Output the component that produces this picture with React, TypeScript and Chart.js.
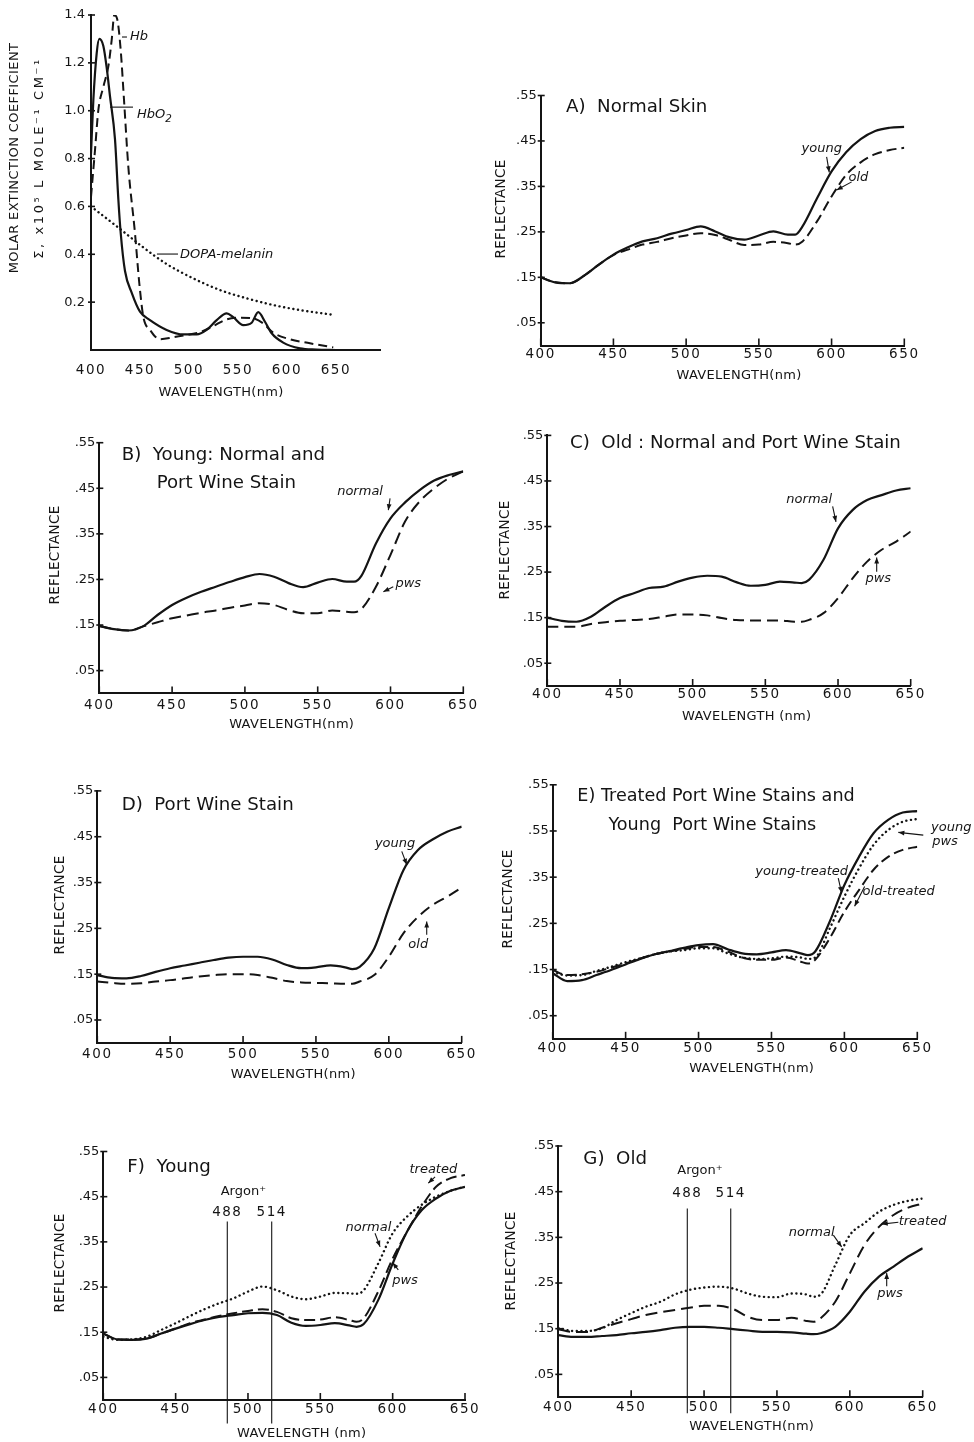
import React, { useEffect, useRef } from "react";
import { Chart, registerables } from "chart.js";

Chart.register(...registerables);

const INK = "#141414";
const FONT = "'DejaVu Sans', 'Liberation Sans', sans-serif";

// ---------- Panel 0: molar extinction coefficients ----------
const HBO2_WL = [400, 402.4, 405.8, 408.5, 412.6, 416, 419.4, 424.5, 427.9, 430.3, 434.7, 441.5, 450, 460.2, 477.2, 494.2, 507.9, 518, 528.3, 538.5, 545.2, 555.4, 564, 570.7, 577.6, 584.4, 596.2, 613.3, 630, 650];
const HBO2_EXT = [0.82, 1.045, 1.24, 1.3, 1.27, 1.18, 1.06, 0.88, 0.63, 0.49, 0.33, 0.24, 0.16, 0.125, 0.084, 0.065, 0.065, 0.084, 0.125, 0.153, 0.137, 0.104, 0.114, 0.158, 0.118, 0.07, 0.031, 0.007, 0.002, 0.0];
const HB_WL = [400, 404.1, 407.5, 412.6, 417.7, 421.1, 423.8, 426.9, 430.3, 433.7, 438.1, 444.9, 449.3, 453.4, 460.2, 470.4, 484, 497.7, 511.2, 524.8, 538.5, 552, 565.6, 575.8, 586, 603, 623.5, 647.3];
const HB_EXT = [0.64, 0.836, 1.003, 1.1, 1.185, 1.295, 1.4, 1.38, 1.254, 1.045, 0.766, 0.488, 0.279, 0.139, 0.084, 0.045, 0.053, 0.063, 0.074, 0.1, 0.128, 0.135, 0.132, 0.111, 0.072, 0.045, 0.028, 0.011];
const DOPA_WL = [400, 419, 433, 453, 477, 504, 532, 559, 586, 613, 649];
const DOPA_EXT = [0.6, 0.54, 0.495, 0.43, 0.36, 0.3, 0.25, 0.216, 0.188, 0.167, 0.146];
const EXT_TICKS = [0.2, 0.4, 0.6, 0.8, 1.0, 1.2, 1.4];
const EXT_LABELS = ["0.2", "0.4", "0.6", "0.8", "1.0", "1.2", "1.4"];

// ---------- Reflectance panels ----------
const WL = [400, 410, 420, 430, 440, 450, 460, 470, 480, 490, 500, 510, 520, 530, 540, 550, 560, 570, 575, 580, 590, 600, 610, 620, 630, 640, 650];
const WL_TICKS = [400, 450, 500, 550, 600, 650];
const WL_LABELS = ["400", "450", "500", "550", "600", "650"];
const R_TICKS = [0.05, 0.15, 0.25, 0.35, 0.45, 0.55];
const R_LABELS = [".05", ".15", ".25", ".35", ".45", ".55"];
const R_LABELS_E = [".05", ".15", ".25", ".35", ".55", ".55"];

const A_YOUNG = [0.15, 0.139, 0.137, 0.154, 0.178, 0.2, 0.216, 0.229, 0.236, 0.246, 0.254, 0.262, 0.251, 0.238, 0.233, 0.242, 0.251, 0.244, 0.244, 0.262, 0.324, 0.383, 0.425, 0.454, 0.472, 0.479, 0.481];
const A_OLD = [0.15, 0.139, 0.137, 0.154, 0.178, 0.199, 0.211, 0.222, 0.228, 0.236, 0.242, 0.247, 0.243, 0.232, 0.221, 0.222, 0.228, 0.225, 0.222, 0.229, 0.273, 0.328, 0.375, 0.403, 0.421, 0.43, 0.435];

const B_NORMAL = [0.148, 0.141, 0.138, 0.147, 0.172, 0.194, 0.21, 0.223, 0.234, 0.245, 0.255, 0.262, 0.256, 0.242, 0.233, 0.243, 0.251, 0.245, 0.245, 0.258, 0.329, 0.384, 0.419, 0.446, 0.467, 0.479, 0.487];
const B_PWS = [0.148, 0.141, 0.138, 0.147, 0.156, 0.165, 0.171, 0.177, 0.182, 0.188, 0.193, 0.198, 0.194, 0.183, 0.176, 0.176, 0.182, 0.179, 0.178, 0.185, 0.234, 0.304, 0.377, 0.421, 0.45, 0.472, 0.487];

const C_NORMAL = [0.15, 0.143, 0.141, 0.152, 0.174, 0.193, 0.204, 0.215, 0.218, 0.229, 0.238, 0.242, 0.24, 0.228, 0.22, 0.222, 0.229, 0.227, 0.226, 0.233, 0.277, 0.346, 0.386, 0.408, 0.419, 0.429, 0.434];
const C_PWS = [0.13, 0.13, 0.13, 0.136, 0.14, 0.143, 0.145, 0.147, 0.152, 0.157, 0.157, 0.155, 0.149, 0.145, 0.144, 0.144, 0.144, 0.141, 0.141, 0.145, 0.16, 0.193, 0.236, 0.273, 0.299, 0.317, 0.339];

const D_YOUNG = [0.148, 0.142, 0.141, 0.146, 0.155, 0.163, 0.169, 0.175, 0.181, 0.186, 0.188, 0.188, 0.182, 0.17, 0.163, 0.165, 0.169, 0.165, 0.161, 0.166, 0.206, 0.294, 0.377, 0.421, 0.444, 0.461, 0.472];
const D_OLD = [0.134, 0.131, 0.129, 0.13, 0.134, 0.137, 0.141, 0.145, 0.148, 0.15, 0.15, 0.148, 0.142, 0.135, 0.132, 0.131, 0.13, 0.129, 0.129, 0.134, 0.148, 0.188, 0.239, 0.275, 0.301, 0.319, 0.339];

const E_YOUNG_TREATED = [0.142, 0.125, 0.127, 0.138, 0.149, 0.161, 0.173, 0.183, 0.19, 0.197, 0.203, 0.205, 0.194, 0.185, 0.183, 0.187, 0.192, 0.185, 0.181, 0.189, 0.254, 0.333, 0.394, 0.445, 0.474, 0.49, 0.493];
const E_OLD_TREATED = [0.149, 0.138, 0.14, 0.145, 0.154, 0.163, 0.174, 0.183, 0.189, 0.194, 0.199, 0.199, 0.189, 0.176, 0.171, 0.171, 0.176, 0.167, 0.163, 0.171, 0.218, 0.275, 0.322, 0.366, 0.394, 0.409, 0.416];
const E_YOUNG_PWS = [0.145, 0.137, 0.138, 0.147, 0.156, 0.166, 0.174, 0.183, 0.189, 0.192, 0.196, 0.196, 0.185, 0.176, 0.173, 0.174, 0.178, 0.176, 0.173, 0.176, 0.239, 0.308, 0.369, 0.42, 0.452, 0.47, 0.476];

const F_NORMAL = [0.14, 0.133, 0.134, 0.14, 0.155, 0.17, 0.186, 0.201, 0.214, 0.225, 0.24, 0.251, 0.243, 0.229, 0.223, 0.229, 0.237, 0.236, 0.235, 0.243, 0.302, 0.369, 0.406, 0.432, 0.45, 0.463, 0.472];
const F_TREATED = [0.147, 0.134, 0.134, 0.136, 0.147, 0.158, 0.17, 0.178, 0.186, 0.192, 0.197, 0.201, 0.195, 0.181, 0.177, 0.178, 0.183, 0.177, 0.173, 0.181, 0.24, 0.313, 0.373, 0.428, 0.472, 0.491, 0.498];
const F_PWS = [0.147, 0.134, 0.133, 0.136, 0.147, 0.158, 0.168, 0.177, 0.184, 0.188, 0.192, 0.193, 0.188, 0.171, 0.164, 0.166, 0.17, 0.165, 0.162, 0.168, 0.221, 0.302, 0.373, 0.42, 0.446, 0.463, 0.472];
const F_ARGON = [485.7, 516.4];

const G_NORMAL = [0.152, 0.145, 0.145, 0.151, 0.169, 0.184, 0.198, 0.209, 0.225, 0.235, 0.24, 0.242, 0.238, 0.227, 0.22, 0.219, 0.227, 0.225, 0.22, 0.225, 0.289, 0.355, 0.381, 0.406, 0.421, 0.43, 0.435];
const G_TREATED = [0.149, 0.143, 0.143, 0.152, 0.162, 0.171, 0.18, 0.186, 0.191, 0.196, 0.2, 0.2, 0.193, 0.176, 0.169, 0.169, 0.174, 0.167, 0.165, 0.173, 0.209, 0.271, 0.333, 0.373, 0.399, 0.415, 0.424];
const G_PWS = [0.136, 0.132, 0.132, 0.134, 0.136, 0.14, 0.143, 0.147, 0.152, 0.154, 0.154, 0.152, 0.149, 0.146, 0.143, 0.143, 0.142, 0.139, 0.138, 0.14, 0.154, 0.187, 0.231, 0.264, 0.286, 0.308, 0.326];
const G_ARGON = [488.5, 518.3];

// ---------- panel definitions (layout + annotations) ----------
type Style = "solid" | "dashed" | "dotted";
type Series = { xs: number[]; ys: number[]; style: Style; dash?: number[] };

const TITLE = 18.2;
const NOTE = 13;

function reflPanel(o: any) {
  return {
    xMin: 400, xMax: 650, yMin: 0, yMax: 0.55,
    xTicks: WL_TICKS, xLabels: WL_LABELS, yTicks: R_TICKS, yLabels: R_LABELS,
    yPad: 4, xTickMarks: true,
    yTitleLines: [{ text: "REFLECTANCE", dx: o.yt[0], spacing: 0.3 }], yTitleDy: o.yt[1], yTitleSize: 13.5,
    xTitle: { text: "WAVELENGTH(nm)", dx: o.xt[0], dy: o.xt[1] },
    vlines: [],
    ...o,
  };
}

const PANELS: any[] = [
  {
    id: "ext",
    box: { L: 91, R: 380, T: 15, B: 350 },
    canvas: { x: 0, y: 0, w: 390, h: 405 },
    xMin: 400, xMax: 695, yMin: 0, yMax: 1.4,
    xTicks: WL_TICKS, xLabels: WL_LABELS, yTicks: EXT_TICKS, yLabels: EXT_LABELS,
    xPad: 12, yPad: 6, xTickMarks: false,
    series: [
      { xs: HBO2_WL, ys: HBO2_EXT, style: "solid" },
      { xs: HB_WL, ys: HB_EXT, style: "dashed", dash: [9, 5] },
      { xs: DOPA_WL, ys: DOPA_EXT, style: "dotted" },
    ],
    texts: [
      { text: "Hb", x: 439.8, y: 1.308, italic: true, align: "left" },
      { text: "HbO", sub: "2", x: 447, y: 0.985, italic: true, align: "left" },
      { text: "DOPA-melanin", x: 490.8, y: 0.397, italic: true, align: "left" },
    ],
    arrows: [
      { x1: 431.6, y1: 1.308, x2: 436.7, y2: 1.308 },
      { x1: 419.4, y1: 1.015, x2: 442.9, y2: 1.015 },
      { x1: 467.3, y1: 0.401, x2: 488.8, y2: 0.401 },
    ],
    vlines: [],
    yTitleLines: [
      { text: "MOLAR EXTINCTION COEFFICIENT", dx: -76, spacing: 0.4 },
      { text: "Σ, x10⁵ L MOLE⁻¹ CM⁻¹", dx: -51, spacing: 2.6 },
    ],
    yTitleDy: 143, yTitleSize: 13,
    xTitle: { text: "WAVELENGTH(nm)", dx: 130, dy: 43 },
  },
  reflPanel({
    id: "A",
    box: { L: 540.7, R: 904.3, T: 95.5, B: 345.5 },
    canvas: { x: 479, y: 70, w: 495, h: 321 },
    xPad: 1, yt: [-39, 113.5], xt: [198.3, 30.2],
    series: [
      { xs: WL, ys: A_YOUNG, style: "solid" },
      { xs: WL, ys: A_OLD, style: "dashed" },
    ],
    texts: [
      { text: "A)  Normal Skin", x: 417.4, y: 0.525, size: TITLE, align: "left" },
      { text: "young", x: 593.2, y: 0.434, italic: true },
      { text: "old", x: 618.4, y: 0.369, italic: true },
    ],
    arrows: [
      { x1: 596.6, y1: 0.415, x2: 598.4, y2: 0.381, head: true },
      { x1: 613.8, y1: 0.36, x2: 603.5, y2: 0.342, head: true },
    ],
  }),
  reflPanel({
    id: "B",
    box: { L: 99.3, R: 463.3, T: 442.7, B: 693.4 },
    canvas: { x: 29, y: 418, w: 456, h: 321 },
    xPad: 4, yt: [-44.3, 112.3], xt: [192.4, 31.6],
    series: [
      { xs: WL, ys: B_NORMAL, style: "solid" },
      { xs: WL, ys: B_PWS, style: "dashed", dash: [12, 6] },
    ],
    texts: [
      { text: "B)  Young: Normal and", x: 415.4, y: 0.523, size: TITLE, align: "left" },
      { text: "Port Wine Stain", x: 439.4, y: 0.461, size: TITLE, align: "left" },
      { text: "normal", x: 579.1, y: 0.442, italic: true },
      { text: "pws", x: 612.2, y: 0.24, italic: true },
    ],
    arrows: [
      { x1: 599.7, y1: 0.428, x2: 598.5, y2: 0.402, head: true },
      { x1: 601.9, y1: 0.234, x2: 595.1, y2: 0.223, head: true },
    ],
  }),
  reflPanel({
    id: "C",
    box: { L: 547.3, R: 910.7, T: 435.4, B: 686 },
    canvas: { x: 485, y: 410, w: 489, h: 321 },
    xPad: 0, yt: [-42.3, 114.6], xt: [199.4, 30.7],
    xTitle: { text: "WAVELENGTH (nm)", dx: 199.4, dy: 30.7 },
    series: [
      { xs: WL, ys: C_NORMAL, style: "solid" },
      { xs: WL, ys: C_PWS, style: "dashed", dash: [11, 6] },
    ],
    texts: [
      { text: "C)  Old : Normal and Port Wine Stain", x: 415.6, y: 0.533, size: TITLE, align: "left" },
      { text: "normal", x: 580.2, y: 0.41, italic: true },
      { text: "pws", x: 627.7, y: 0.236, italic: true },
    ],
    arrows: [
      { x1: 596.3, y1: 0.394, x2: 598.6, y2: 0.36, head: true },
      { x1: 626.6, y1: 0.251, x2: 626.6, y2: 0.282, head: true },
    ],
  }),
  reflPanel({
    id: "D",
    box: { L: 97.3, R: 461.7, T: 790.9, B: 1042.9 },
    canvas: { x: 27, y: 766, w: 458, h: 322 },
    xPad: 3, yt: [-37.3, 114.1], xt: [196, 32.1],
    series: [
      { xs: WL, ys: D_YOUNG, style: "solid" },
      { xs: WL, ys: D_OLD, style: "dashed", dash: [11, 6] },
    ],
    texts: [
      { text: "D)  Port Wine Stain", x: 416.7, y: 0.519, size: TITLE, align: "left" },
      { text: "young", x: 604.3, y: 0.436, italic: true },
      { text: "old", x: 620.2, y: 0.214, italic: true },
    ],
    arrows: [
      { x1: 608.9, y1: 0.418, x2: 612.3, y2: 0.389, head: true },
      { x1: 626, y1: 0.236, x2: 626, y2: 0.265, head: true },
    ],
  }),
  reflPanel({
    id: "E",
    box: { L: 552.7, R: 917.3, T: 784.8, B: 1038.8 },
    canvas: { x: 490, y: 760, w: 484, h: 324 },
    xPad: 2, yt: [-44.4, 114.2], xt: [199, 29.5],
    yLabels: R_LABELS_E,
    series: [
      { xs: WL, ys: E_YOUNG_TREATED, style: "solid" },
      { xs: WL, ys: E_OLD_TREATED, style: "dashed", dash: [10, 5] },
      { xs: WL, ys: E_YOUNG_PWS, style: "dotted" },
    ],
    texts: [
      { text: "E) Treated Port Wine Stains and", x: 416.9, y: 0.524, size: 17.6, align: "left" },
      { text: "Young  Port Wine Stains", x: 438.2, y: 0.463, size: 17.6, align: "left" },
      { text: "young-treated", x: 570.7, y: 0.361, italic: true },
      { text: "old-treated", x: 612.5, y: 0.318, italic: true, align: "left" },
      { text: "young", x: 673.3, y: 0.457, italic: true },
      { text: "pws", x: 669, y: 0.428, italic: true },
    ],
    arrows: [
      { x1: 595.8, y1: 0.348, x2: 598.1, y2: 0.316, head: true },
      { x1: 613.9, y1: 0.33, x2: 607, y2: 0.287, head: true },
      { x1: 654.1, y1: 0.441, x2: 637, y2: 0.447, head: true },
    ],
  }),
  reflPanel({
    id: "F",
    box: { L: 103.3, R: 465, T: 1151.5, B: 1400 },
    canvas: { x: 33, y: 1126, w: 454, h: 316 },
    xPad: 1, yt: [-43.3, 111.5], xt: [198.4, 33.3],
    xTitle: { text: "WAVELENGTH (nm)", dx: 198.4, dy: 33.3 },
    series: [
      { xs: WL, ys: F_NORMAL, style: "dotted" },
      { xs: WL, ys: F_TREATED, style: "dashed", dash: [11, 5] },
      { xs: WL, ys: F_PWS, style: "solid" },
    ],
    vlines: F_ARGON.map((x) => ({ x, y1: 0.395, y2: -0.052 })),
    texts: [
      { text: "F)  Young", x: 416.6, y: 0.516, size: TITLE, align: "left" },
      { text: "Argon⁺", x: 496.8, y: 0.461, size: 13 },
      { text: "488", x: F_ARGON[0], y: 0.415, size: 13.5, spacing: 1.5 },
      { text: "514", x: F_ARGON[1], y: 0.415, size: 13.5, spacing: 1.5 },
      { text: "treated", x: 628.1, y: 0.509, italic: true },
      { text: "normal", x: 583.2, y: 0.382, italic: true },
      { text: "pws", x: 608.5, y: 0.264, italic: true },
    ],
    arrows: [
      { x1: 629.3, y1: 0.494, x2: 624.6, y2: 0.48, head: true },
      { x1: 587.8, y1: 0.369, x2: 591.3, y2: 0.339, head: true },
      { x1: 603.9, y1: 0.288, x2: 600, y2: 0.304, head: true },
    ],
  }),
  reflPanel({
    id: "G",
    box: { L: 558.3, R: 922.7, T: 1146, B: 1397.2 },
    canvas: { x: 496, y: 1121, w: 478, h: 321 },
    xPad: 2, yt: [-46.6, 115], xt: [193.4, 29.5],
    series: [
      { xs: WL, ys: G_NORMAL, style: "dotted" },
      { xs: WL, ys: G_TREATED, style: "dashed", dash: [12, 6] },
      { xs: WL, ys: G_PWS, style: "solid" },
    ],
    vlines: G_ARGON.map((x) => ({ x, y1: 0.413, y2: -0.035 })),
    texts: [
      { text: "G)  Old", x: 417.2, y: 0.522, size: TITLE, align: "left" },
      { text: "Argon⁺", x: 497.2, y: 0.496, size: 13 },
      { text: "488", x: G_ARGON[0], y: 0.446, size: 13.5, spacing: 1.5 },
      { text: "514", x: G_ARGON[1], y: 0.446, size: 13.5, spacing: 1.5 },
      { text: "normal", x: 573.8, y: 0.361, italic: true },
      { text: "treated", x: 633.5, y: 0.384, italic: true, align: "left" },
      { text: "pws", x: 627.6, y: 0.226, italic: true },
    ],
    arrows: [
      { x1: 588.7, y1: 0.355, x2: 594.4, y2: 0.329, head: true },
      { x1: 633.3, y1: 0.383, x2: 621.9, y2: 0.379, head: true },
      { x1: 625.3, y1: 0.243, x2: 625.3, y2: 0.272, head: true },
    ],
  }),
];

function setSpacing(ctx: any, px: number) {
  if ("letterSpacing" in ctx) ctx.letterSpacing = px + "px";
}

function makeAnnot(p: any) {
  return {
    id: "annot_" + p.id,
    beforeDraw(chart: any) {
      setSpacing(chart.ctx, 0);
    },
    afterDatasetsDraw(chart: any) {
      // x tick labels (drawn after datasets, z = 1) get the wide spacing of the original lettering
      setSpacing(chart.ctx, 1.6);
    },
    afterDraw(chart: any) {
      const ctx = chart.ctx;
      setSpacing(ctx, 0);
      const ca = chart.chartArea;
      const xs = chart.scales.x;
      const ys = chart.scales.y;
      const X = (v: number) => xs.getPixelForValue(v);
      const Y = (v: number) => ys.getPixelForValue(v);
      ctx.save();
      ctx.strokeStyle = INK;
      ctx.fillStyle = INK;
      ctx.lineCap = "butt";
      // tick marks
      ctx.lineWidth = 1.6;
      for (const t of p.yTicks) {
        const y = Y(t);
        ctx.beginPath();
        ctx.moveTo(ca.left - 3, y);
        ctx.lineTo(ca.left + 4, y);
        ctx.stroke();
      }
      if (p.xTickMarks) {
        for (const t of p.xTicks) {
          const x = X(t);
          ctx.beginPath();
          ctx.moveTo(x, ca.bottom);
          ctx.lineTo(x, ca.bottom - 7);
          ctx.stroke();
        }
      }
      // vertical laser lines
      ctx.lineWidth = 1.1;
      for (const v of p.vlines || []) {
        ctx.beginPath();
        ctx.moveTo(X(v.x), Y(v.y1));
        ctx.lineTo(X(v.x), Y(v.y2));
        ctx.stroke();
      }
      // arrows / leaders
      ctx.lineWidth = 1.1;
      for (const a of p.arrows || []) {
        const x1 = X(a.x1), y1 = Y(a.y1), x2 = X(a.x2), y2 = Y(a.y2);
        ctx.beginPath();
        ctx.moveTo(x1, y1);
        ctx.lineTo(x2, y2);
        ctx.stroke();
        if (a.head) {
          const ang = Math.atan2(y2 - y1, x2 - x1);
          const hl = 6, hw = 2.4;
          const c = Math.cos(ang), s = Math.sin(ang);
          ctx.beginPath();
          ctx.moveTo(x2, y2);
          ctx.lineTo(x2 - hl * c + hw * s, y2 - hl * s - hw * c);
          ctx.lineTo(x2 - hl * c - hw * s, y2 - hl * s + hw * c);
          ctx.closePath();
          ctx.fill();
        }
      }
      // texts
      ctx.textBaseline = "middle";
      for (const t of p.texts || []) {
        const size = t.size || NOTE;
        ctx.font = `${t.italic ? "italic " : ""}${size}px ${FONT}`;
        ctx.textAlign = t.align || "center";
        setSpacing(ctx, t.spacing || 0);
        const x = X(t.x), y = Y(t.y);
        ctx.fillText(t.text, x, y);
        if (t.sub) {
          const w = ctx.measureText(t.text).width;
          ctx.font = `${t.italic ? "italic " : ""}${size * 0.8}px ${FONT}`;
          ctx.textAlign = "left";
          ctx.fillText(t.sub, x + w, y + size * 0.35);
        }
        setSpacing(ctx, 0);
      }
      // axis titles
      ctx.font = `${p.yTitleSize}px ${FONT}`;
      ctx.textAlign = "center";
      for (const l of p.yTitleLines) {
        ctx.save();
        ctx.translate(ca.left + l.dx, ca.top + p.yTitleDy);
        ctx.rotate(-Math.PI / 2);
        setSpacing(ctx, l.spacing || 0);
        ctx.fillText(l.text, 0, 0);
        setSpacing(ctx, 0);
        ctx.restore();
      }
      ctx.font = `13px ${FONT}`;
      setSpacing(ctx, 0.3);
      ctx.fillText(p.xTitle.text, ca.left + p.xTitle.dx, ca.bottom + p.xTitle.dy);
      setSpacing(ctx, 0);
      ctx.restore();
    },
  };
}

function makeConfig(p: any): any {
  const yAxisW = p.box.L - p.canvas.x;
  const xAxisH = p.canvas.y + p.canvas.h - p.box.B;
  return {
    type: "line",
    data: {
      datasets: p.series.map((s: Series) => ({
        data: s.xs.map((x, i) => ({ x, y: s.ys[i] })),
        borderColor: INK,
        backgroundColor: INK,
        borderWidth: s.style === "solid" ? 2.2 : s.style === "dashed" ? 2 : 2.4,
        borderDash: s.style === "dashed" ? s.dash || [10, 5] : s.style === "dotted" ? [0.1, 4.6] : [],
        borderCapStyle: s.style === "dotted" ? "round" : "butt",
        pointRadius: 0,
        fill: false,
        cubicInterpolationMode: "monotone",
      })),
    },
    options: {
      animation: false,
      responsive: false,
      maintainAspectRatio: false,
      events: [],
      layout: {
        padding: {
          top: p.box.T - p.canvas.y,
          right: p.canvas.x + p.canvas.w - p.box.R,
          left: 0,
          bottom: 0,
        },
      },
      plugins: { legend: { display: false }, tooltip: { enabled: false }, title: { display: false } },
      scales: {
        x: {
          type: "linear",
          min: p.xMin,
          max: p.xMax,
          grid: { display: false, drawTicks: false },
          border: { display: true, color: INK, width: 2 },
          ticks: {
            z: 1,
            color: INK,
            font: { family: FONT, size: 13.5 },
            padding: p.xPad,
            autoSkip: false,
            maxRotation: 0,
            minRotation: 0,
            callback: (_v: any, i: number) => p.xLabels[i],
          },
          afterBuildTicks: (s: any) => {
            s.ticks = p.xTicks.map((v: number) => ({ value: v }));
          },
          afterFit: (s: any) => {
            s.height = xAxisH;
          },
        },
        y: {
          type: "linear",
          min: p.yMin,
          max: p.yMax,
          grid: { display: false, drawTicks: false },
          border: { display: true, color: INK, width: 2 },
          ticks: {
            color: INK,
            font: { family: FONT, size: 13 },
            padding: p.yPad,
            autoSkip: false,
            callback: (_v: any, i: number) => p.yLabels[i],
          },
          afterBuildTicks: (s: any) => {
            s.ticks = p.yTicks.map((v: number) => ({ value: v }));
          },
          afterFit: (s: any) => {
            s.width = yAxisW;
          },
        },
      },
    },
    plugins: [makeAnnot(p)],
  };
}

function PanelCanvas({ p }: { p: any }) {
  const ref = useRef<HTMLCanvasElement | null>(null);
  useEffect(() => {
    if (!ref.current) return;
    const chart = new Chart(ref.current, makeConfig(p));
    return () => chart.destroy();
  }, [p]);
  return (
    <canvas
      ref={ref}
      width={p.canvas.w}
      height={p.canvas.h}
      style={{ position: "absolute", left: p.canvas.x, top: p.canvas.y, width: p.canvas.w, height: p.canvas.h }}
    />
  );
}

export default function App() {
  return (
    <div style={{ position: "absolute", left: 0, top: 0, width: 974, height: 1442, background: "#ffffff", overflow: "hidden" }}>
      {PANELS.map((p) => (
        <PanelCanvas key={p.id} p={p} />
      ))}
    </div>
  );
}
